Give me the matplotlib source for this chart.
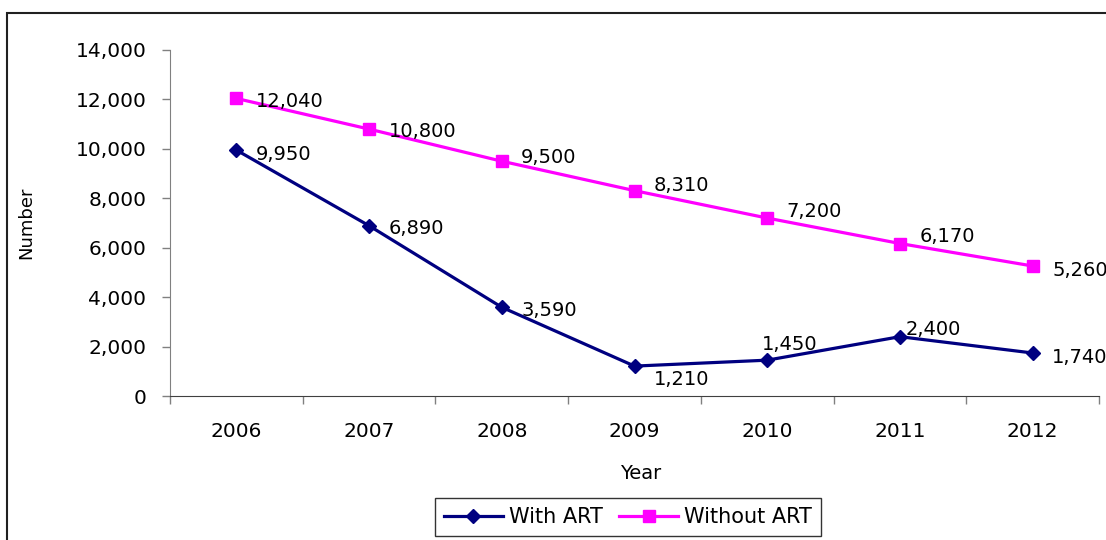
import matplotlib
matplotlib.use('Agg')
import matplotlib.pyplot as plt
from matplotlib.patches import Rectangle

years = ['2006', '2007', '2008', '2009', '2010', '2011', '2012']
with_art = [9950, 6890, 3590, 1210, 1450, 2400, 1740]
without_art = [12040, 10800, 9500, 8310, 7200, 6170, 5260]
y_ticks = [0, 2000, 4000, 6000, 8000, 10000, 12000, 14000]

# label offsets (points) for the value labels
off_with = [(14, -3), (14, -2), (14, -2), (14, -10), (-4, 11), (4, 5), (14, -3)]
off_without = [(14, -2), (14, -2), (14, 3), (14, 4), (14, 5), (14, 5), (14, -3)]

plt.rcParams['font.family'] = ['DejaVu Sans']
fig = plt.figure(figsize=(11.06, 5.40), dpi=100)
ax = fig.add_axes([170/1106, 1-396/540, 929/1106, 346/540])

x = list(range(len(years)))
ax.plot(x, with_art, color='#000080', lw=2.3, marker='D', ms=7, label='With ART')
ax.plot(x, without_art, color='#FF00FF', lw=2.3, marker='s', ms=8, label='Without ART')

for i, v in enumerate(with_art):
    ax.annotate(f'{v:,}', (i, v), xytext=off_with[i], textcoords='offset points',
                ha='left', va='center', fontsize=14, annotation_clip=False)
for i, v in enumerate(without_art):
    ax.annotate(f'{v:,}', (i, v), xytext=off_without[i], textcoords='offset points',
                ha='left', va='center', fontsize=14, annotation_clip=False)

ax.set_xlim(-0.5, len(years) - 0.5)
ax.set_ylim(0, 14000)
ax.set_yticks(y_ticks)
ax.set_yticklabels([f'{t:,}' for t in y_ticks], fontsize=14.5)
ax.tick_params(axis='y', length=6, width=1, color='#808080', pad=11)

ax.set_xticks([i - 0.5 for i in range(len(years) + 1)])
ax.set_xticklabels([])
ax.tick_params(axis='x', which='major', length=6, width=1, color='#808080')
ax.set_xticks(x, minor=True)
ax.set_xticklabels(years, minor=True, fontsize=14.5)
ax.tick_params(axis='x', which='minor', length=0, pad=19)

for s in ['top', 'right']:
    ax.spines[s].set_visible(False)
ax.spines['left'].set_color('#808080')
ax.spines['bottom'].set_color('#404040')

ax.set_ylabel('Number', fontsize=13)
ax.yaxis.set_label_coords(-135/929, 0.5)
ax.set_xlabel('Year', fontsize=14)
ax.xaxis.set_label_coords(0.507, -68/346)

leg = fig.legend(loc='center', bbox_to_anchor=(628/1106, 1-517/540), ncol=2,
                 fontsize=15, frameon=True, fancybox=False, edgecolor='black',
                 handlelength=2.8, columnspacing=0.8, handletextpad=0.3,
                 borderpad=0.45, borderaxespad=0)
leg.get_frame().set_linewidth(1)

fig.patches.append(Rectangle((7/1106, -0.1), 1.2, 1.1 - 13/540, transform=fig.transFigure,
                             fill=False, edgecolor='#202020', lw=1.5))

fig.savefig('out.png', dpi=100)
